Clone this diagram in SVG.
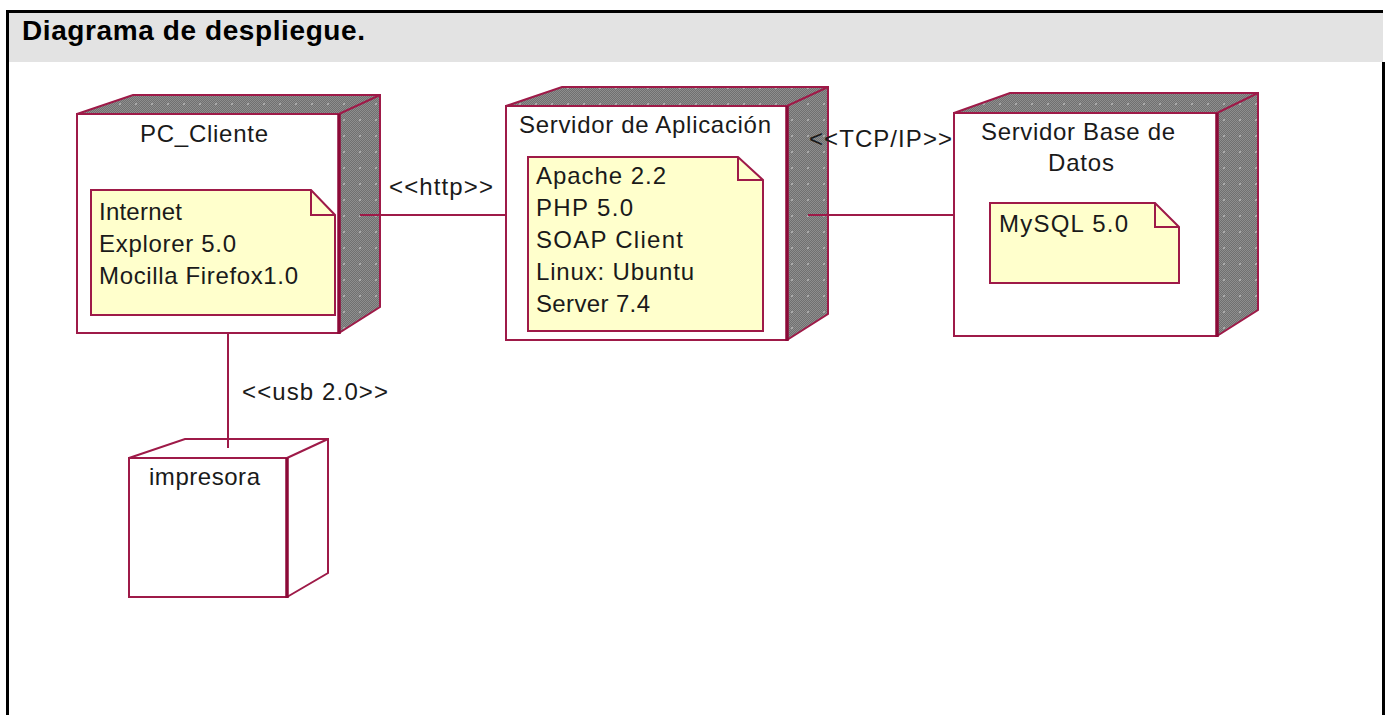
<svg xmlns="http://www.w3.org/2000/svg" width="1391" height="715" viewBox="0 0 1391 715">
  <style>
    .frame { stroke: #000; stroke-width: 3; fill: none; }
    .edge { stroke: #9e1a48; stroke-width: 2; fill: none; stroke-linejoin: miter; }
    .thick { stroke: #8c0a38; stroke-width: 3.5; fill: none; }
    .front { fill: #fff; stroke: #9e1a48; stroke-width: 2; }
    .shade { fill: url(#dots); stroke: none; }
    .note { fill: #ffffcc; stroke: #9e1a48; stroke-width: 2; stroke-linejoin: miter; }
    .lbl { font-family: "Liberation Sans", Arial, sans-serif; font-size: 24px; fill: #1a1a1a; }
    .wire { stroke: #9e1a48; stroke-width: 2; fill: none; }
  </style>
  <defs>
    <!-- fine grey dither used on the hidden faces of the nodes -->
    <pattern id="dither" width="2" height="2" patternUnits="userSpaceOnUse">
      <rect width="2" height="2" fill="#707070"/>
      <rect width="1" height="1" fill="#8e8e8e"/>
      <rect x="1" y="1" width="1" height="1" fill="#8e8e8e"/>
    </pattern>
    <pattern id="dots" width="16" height="16" patternUnits="userSpaceOnUse">
      <rect width="16" height="16" fill="url(#dither)"/>
      <rect x="7" y="7" width="2" height="2" fill="#a9a9a9"/>
    </pattern>
  </defs>

  <!-- page frame and title bar -->
  <rect x="7" y="12" width="1376" height="50" fill="#e3e3e3"/>
  <line class="frame" x1="6" y1="11.5" x2="1383" y2="11.5"/>
  <line class="frame" x1="7.5" y1="10" x2="7.5" y2="715"/>
  <line class="frame" x1="1383.5" y1="62" x2="1383.5" y2="715"/>
  <text x="22" y="40" font-family="Liberation Sans, Arial, sans-serif" font-weight="bold" font-size="28" fill="#000" textLength="343" lengthAdjust="spacing">Diagrama de despliegue.</text>

  <!-- PC_Cliente -->
  <g id="pc-cliente">
    <polygon class="shade" points="77,114 133,95 380,95 380,307 339,333 339,114"/>
    <polyline class="edge" points="77,114 133,95 380,95 380,307 339,333"/>
    <line class="edge" x1="339" y1="114" x2="380" y2="95"/>
    <rect class="front" x="77" y="114" width="262" height="219"/>
    <line class="thick" x1="339" y1="114" x2="339" y2="334"/>
    <text class="lbl" x="140" y="142" textLength="128" lengthAdjust="spacing">PC_Cliente</text>
    <g id="note-cliente">
      <polygon class="note" points="91,190 311,190 335,215 335,315 91,315"/>
      <polyline class="edge" points="311,190 311,215 335,215"/>
      <text class="lbl" x="99" y="220" textLength="83" lengthAdjust="spacing">Internet</text>
      <text class="lbl" x="99" y="252" textLength="137" lengthAdjust="spacing">Explorer 5.0</text>
      <text class="lbl" x="99" y="284" textLength="199" lengthAdjust="spacing">Mocilla Firefox1.0</text>
    </g>
  </g>

  <!-- Servidor de Aplicación -->
  <g id="servidor-aplicacion">
    <polygon class="shade" points="506,106 562,87 828,87 828,314 787,340 787,106"/>
    <polyline class="edge" points="506,106 562,87 828,87 828,314 787,340"/>
    <line class="edge" x1="787" y1="106" x2="828" y2="87"/>
    <rect class="front" x="506" y="106" width="281" height="234"/>
    <line class="thick" x1="787" y1="106" x2="787" y2="341"/>
    <text class="lbl" x="519" y="133" textLength="252" lengthAdjust="spacing">Servidor de Aplicación</text>
    <g id="note-aplicacion">
      <polygon class="note" points="528,157 738,157 763,180 763,331 528,331"/>
      <polyline class="edge" points="738,157 738,180 763,180"/>
      <text class="lbl" x="536" y="184" textLength="130" lengthAdjust="spacing">Apache 2.2</text>
      <text class="lbl" x="536" y="216" textLength="97" lengthAdjust="spacing">PHP 5.0</text>
      <text class="lbl" x="536" y="248" textLength="147" lengthAdjust="spacing">SOAP Client</text>
      <text class="lbl" x="536" y="280" textLength="158" lengthAdjust="spacing">Linux: Ubuntu</text>
      <text class="lbl" x="536" y="312" textLength="114" lengthAdjust="spacing">Server 7.4</text>
    </g>
  </g>

  <!-- Servidor Base de Datos -->
  <g id="servidor-bd">
    <polygon class="shade" points="954,113 1010,93 1258,93 1258,310 1217,336 1217,113"/>
    <polyline class="edge" points="954,113 1010,93 1258,93 1258,310 1217,336"/>
    <line class="edge" x1="1217" y1="113" x2="1258" y2="93"/>
    <rect class="front" x="954" y="113" width="263" height="223"/>
    <line class="thick" x1="1217" y1="113" x2="1217" y2="337"/>
    <text class="lbl" x="981" y="140" textLength="194" lengthAdjust="spacing">Servidor Base de</text>
    <text class="lbl" x="1048" y="171" textLength="66" lengthAdjust="spacing">Datos</text>
    <g id="note-bd">
      <polygon class="note" points="990,203 1155,203 1179,227 1179,283 990,283"/>
      <polyline class="edge" points="1155,203 1155,227 1179,227"/>
      <text class="lbl" x="999" y="232" textLength="129" lengthAdjust="spacing">MySQL 5.0</text>
    </g>
  </g>

  <!-- impresora -->
  <g id="impresora">
    <polygon points="129,458 185,439 328,439 328,573 287,597 287,458" fill="#fff"/>
    <polyline class="edge" points="129,458 185,439 328,439 328,573 287,597"/>
    <line class="edge" x1="287" y1="458" x2="328" y2="439"/>
    <rect class="front" x="129" y="458" width="158" height="139"/>
    <line class="thick" x1="287" y1="458" x2="287" y2="598"/>
    <text class="lbl" x="149" y="485" textLength="111" lengthAdjust="spacing">impresora</text>
  </g>

  <!-- connectors, drawn over the node faces they start on -->
  <g id="connectors">
    <line class="wire" x1="360" y1="215" x2="506" y2="215"/>
    <text class="lbl" x="389" y="195" textLength="104" lengthAdjust="spacing">&lt;&lt;http&gt;&gt;</text>
    <line class="wire" x1="808" y1="215" x2="954" y2="215"/>
    <text class="lbl" x="809" y="147" textLength="143" lengthAdjust="spacing">&lt;&lt;TCP/IP&gt;&gt;</text>
    <line class="wire" x1="228" y1="333" x2="228" y2="448"/>
    <text class="lbl" x="242" y="400" textLength="146" lengthAdjust="spacing">&lt;&lt;usb 2.0&gt;&gt;</text>
  </g>
</svg>
